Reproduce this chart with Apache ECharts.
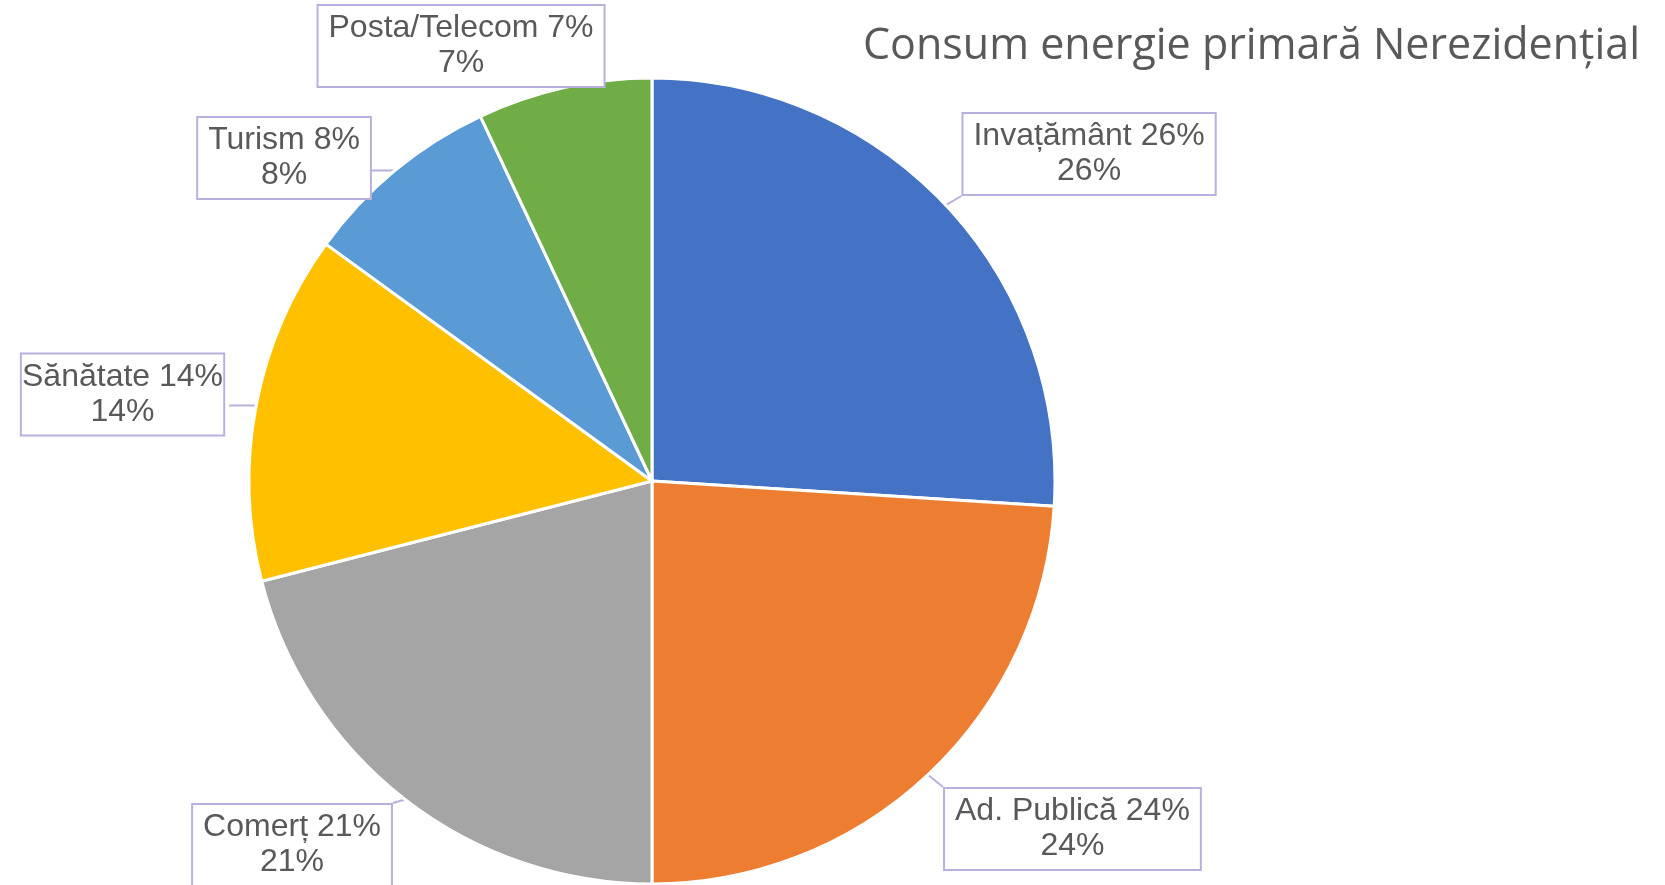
<!DOCTYPE html>
<html>
<head>
<meta charset="utf-8">
<script src="https://cdn.jsdelivr.net/npm/echarts@6/dist/echarts.min.js"></script>
<style>
  html, body { margin: 0; padding: 0; background: #fff; }
  #chart { width: 1665px; height: 885px; }
</style>
</head>
<body>
<div id="chart"></div>
<script>
// ---- data ----
const categories = ['Invațământ 26%', 'Ad. Publică 24%', 'Comerț 21%', 'Sănătate 14%', 'Turism 8%', 'Posta/Telecom 7%'];
const values = [26, 24, 21, 14, 8, 7];
const colors = ['#4472C4', '#ED7D31', '#A5A5A5', '#FFC000', '#5B9BD5', '#70AD47'];
const titleText = 'Consum energie primară Nerezidențial';

// ---- label box centres (layout, fraction of canvas) ----
const labelCentres = [
  [0.6541, 0.1740],
  [0.6441, 0.9367],
  [0.1754, 0.9548],
  [0.0736, 0.4458],
  [0.1706, 0.1785],
  [0.2769, 0.0520]
];

const chart = echarts.init(document.getElementById('chart'));
const W = 1665, H = 885;

function clampToRect(p, r) {
  const x = Math.max(r.x, Math.min(r.x + r.width, p[0]));
  const y = Math.max(r.y, Math.min(r.y + r.height, p[1]));
  return [x, y];
}

chart.setOption({
  animation: false,
  title: {
    text: titleText,
    right: 20,
    top: 20,
    textStyle: {
      fontFamily: 'Open Sans',
      fontWeight: 'normal',
      fontSize: 43,
      color: '#595959'
    }
  },
  series: [{
    type: 'pie',
    center: [652, 481],
    radius: 403,
    startAngle: 90,
    clockwise: true,
    color: colors,
    itemStyle: { borderColor: '#ffffff', borderWidth: 3 },
    label: {
      show: true,
      position: 'outside',
      overflow: 'none',
      formatter: '{b}\n{d}%',
      fontFamily: 'Liberation Sans, Arial',
      fontSize: 32,
      lineHeight: 35,
      color: '#595959',
      backgroundColor: '#ffffff',
      borderColor: '#B9B0DE',
      borderWidth: 2,
      padding: [9, 10, 1, 10],
      align: 'center'
    },
    labelLine: {
      show: true,
      lineStyle: { color: '#B9B0DE', width: 2 }
    },
    labelLayout: function (params) {
      const c = labelCentres[params.dataIndex];
      const cx = c[0] * W, cy = c[1] * H;
      const lr = params.labelRect;
      const rect = { x: cx - lr.width / 2, y: cy - lr.height / 2, width: lr.width, height: lr.height };
      const tip = params.labelLinePoints ? params.labelLinePoints[0] : [cx, cy];
      const end = clampToRect(tip, rect);
      return {
        x: cx,
        y: cy,
        align: 'center',
        verticalAlign: 'middle',
        labelLinePoints: [tip, end, end]
      };
    },
    data: categories.map((n, i) => ({ name: n, value: values[i] }))
  }]
});
</script>
</body>
</html>
